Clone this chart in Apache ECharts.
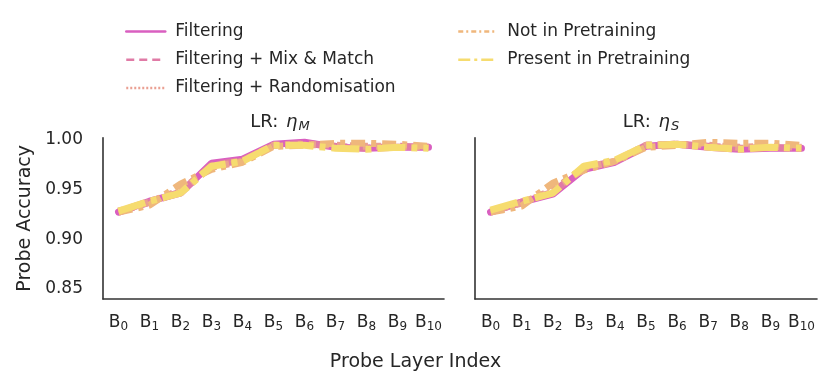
<!DOCTYPE html>
<html>
<head>
<meta charset="utf-8">
<script src="https://cdn.jsdelivr.net/npm/echarts@6/dist/echarts.min.js"></script>
<style>
  html, body {margin: 0; padding: 0; background: #fff;}
  #chart {width: 831px; height: 388px;}
</style>
</head>
<body>
<div id="chart"></div>
<script>
// probe layers B0..B10
var layers = ["0", "1", "2", "3", "4", "5", "6", "7", "8", "9", "10"];
var yTicks = [0.85, 0.90, 0.95, 1.00];
var seriesNames = ["Filtering", "Filtering + Mix & Match", "Filtering + Randomisation", "Not in Pretraining", "Present in Pretraining"];

// LR: eta_M (left panel)
var filteringM = [0.927, 0.938, 0.946, 0.976, 0.980, 0.995, 0.997, 0.992, 0.991, 0.992, 0.992];
var mixMatchM  = [0.927, 0.937, 0.947, 0.974, 0.979, 0.994, 0.996, 0.993, 0.991, 0.993, 0.992];
var randomM    = [0.928, 0.937, 0.949, 0.972, 0.978, 0.994, 0.995, 0.994, 0.993, 0.993, 0.992];
var notInM     = [0.927, 0.934, 0.955, 0.970, 0.977, 0.993, 0.994, 0.996, 0.996, 0.995, 0.993];
var presentM   = [0.928, 0.938, 0.946, 0.973, 0.978, 0.994, 0.994, 0.991, 0.990, 0.992, 0.991];

// LR: eta_S (right panel)
var filteringS = [0.927, 0.937, 0.945, 0.970, 0.977, 0.993, 0.995, 0.992, 0.990, 0.991, 0.991];
var mixMatchS  = [0.927, 0.937, 0.947, 0.971, 0.978, 0.994, 0.995, 0.993, 0.991, 0.992, 0.991];
var randomS    = [0.928, 0.936, 0.949, 0.971, 0.978, 0.994, 0.995, 0.994, 0.992, 0.993, 0.992];
var notInS     = [0.927, 0.933, 0.956, 0.969, 0.978, 0.992, 0.994, 0.997, 0.996, 0.996, 0.994];
var presentS   = [0.929, 0.938, 0.946, 0.973, 0.979, 0.994, 0.995, 0.992, 0.990, 0.992, 0.991];

var colors = ["#d95fc0", "#e07ba6", "#eaa092", "#efb77c", "#f6dc6f"];
var dashes = ["solid", [16, 7], [5, 8], [14, 6, 5, 6], [28, 6, 6, 6]];
var legendDashes = ["solid", [8, 5], [2, 2], [5, 3, 2, 3], [12, 4, 3, 4]];
var font = "DejaVu Sans";
var ink = "#262626";

var chart = echarts.init(document.getElementById("chart"));

function xAxis(idx) {
  return {
    type: "category", gridIndex: idx, data: layers, boundaryGap: true,
    axisLine: {lineStyle: {color: "#333", width: 1.6}},
    axisTick: {show: false},
    axisLabel: {
      interval: 0, margin: 13,
      formatter: function (v) { return "{b|B}{s|" + v + "}"; },
      rich: {
        b: {fontFamily: font, fontSize: 17, color: ink},
        s: {fontFamily: font, fontSize: 12, color: ink, padding: [9, 0, 0, 0]}
      }
    },
    splitLine: {show: false}
  };
}

function yAxis(idx, labels) {
  var ax = {
    type: "value", gridIndex: idx, min: 0.84, max: 1.0016,
    axisLine: {show: true, lineStyle: {color: "#333", width: 1.6}},
    axisTick: {show: false},
    splitLine: {show: false},
    axisLabel: {
      show: labels, customValues: yTicks, margin: 20,
      fontFamily: font, fontSize: 17, color: ink,
      formatter: function (v) { return v.toFixed(2); }
    }
  };
  if (labels) {
    ax.name = "Probe Accuracy";
    ax.nameLocation = "middle";
    ax.nameGap = 68;
    ax.nameTextStyle = {fontFamily: font, fontSize: 19, color: ink};
  }
  return ax;
}

var panels = [
  [filteringM, mixMatchM, randomM, notInM, presentM],
  [filteringS, mixMatchS, randomS, notInS, presentS]
];
var series = [];
panels.forEach(function (sets, p) {
  sets.forEach(function (vals, k) {
    series.push({
      name: seriesNames[k], type: "line", xAxisIndex: p, yAxisIndex: p,
      data: vals, symbol: "none", z: 2 + k,
      lineStyle: {color: colors[k], width: 7, type: dashes[k], cap: k === 0 ? "round" : "butt"},
      itemStyle: {color: colors[k]}
    });
  });
});

function legendItems(from, to) {
  var out = [];
  for (var k = from; k < to; k++) {
    out.push({
      name: seriesNames[k],
      itemStyle: {opacity: 0},
      lineStyle: {type: legendDashes[k], width: 2.5, color: colors[k]}
    });
  }
  return out;
}

function titleRich(sub) {
  return {
    text: "LR: {i|η}{s|" + sub + "}",
    top: 107, textAlign: "center",
    textStyle: {
      fontFamily: font, fontSize: 18, fontWeight: "normal", color: ink,
      rich: {
        i: {fontFamily: font, fontSize: 18, fontStyle: "italic", color: ink, padding: [0, 1, 0, 2]},
        s: {fontFamily: font, fontSize: 13, fontStyle: "italic", color: ink, padding: [8, 0, 0, 0]}
      }
    }
  };
}

var t1 = titleRich("M"); t1.left = 275;
var t2 = titleRich("S"); t2.left = 646;

var option = {
  animation: false,
  backgroundColor: "#fff",
  title: [t1, t2, {
    text: "Probe Layer Index", left: "center", top: 348,
    textStyle: {fontFamily: font, fontSize: 19, fontWeight: "normal", color: ink}
  }],
  legend: [{
    orient: "vertical", left: 120, top: 18, itemWidth: 39, itemHeight: 14, itemGap: 11.2,
    data: legendItems(0, 3),
    textStyle: {fontFamily: font, fontSize: 17, color: ink, padding: [0, 0, 0, 5]}
  }, {
    orient: "vertical", left: 452, top: 18, itemWidth: 38, itemHeight: 14, itemGap: 11.2,
    data: legendItems(3, 5),
    textStyle: {fontFamily: font, fontSize: 17, color: ink, padding: [0, 0, 0, 6]}
  }],
  grid: [
    {left: 103, top: 137.7, width: 341, height: 161.3},
    {left: 475, top: 137.7, width: 342, height: 161.3}
  ],
  xAxis: [xAxis(0), xAxis(1)],
  yAxis: [yAxis(0, true), yAxis(1, false)],
  series: series
};
chart.setOption(option);
</script>
</body>
</html>
